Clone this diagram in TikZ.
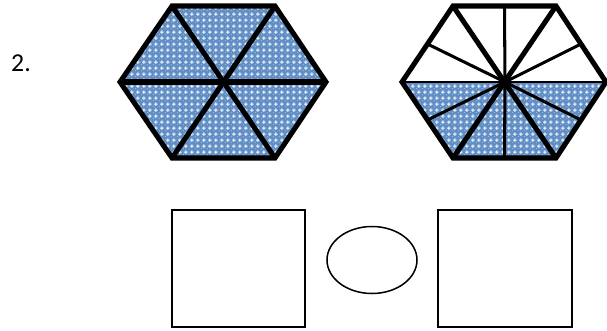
\documentclass[tikz,border=0pt]{standalone}
\usepackage{fontspec}
\setmainfont{Carlito}
\usetikzlibrary{patterns,calc}
\definecolor{hexblue}{RGB}{79,129,189}
% piccole croci bianche sul fondo blu
\pgfdeclarepatternformonly{bluecross}{\pgfqpoint{0pt}{0pt}}{\pgfqpoint{5pt}{5pt}}{\pgfqpoint{5pt}{5pt}}{
  \pgfpathrectangle{\pgfqpoint{1pt}{2pt}}{\pgfqpoint{3pt}{1pt}}
  \pgfpathrectangle{\pgfqpoint{2pt}{1pt}}{\pgfqpoint{1pt}{3pt}}
  \pgfpathrectangle{\pgfqpoint{0pt}{0pt}}{\pgfqpoint{0.6pt}{0.6pt}}
  \pgfusepath{fill}
}
\tikzset{
  hexfill/.style={fill=hexblue!90!white, postaction={pattern=bluecross, pattern color=white!92!hexblue}},
  hexline/.style={line width=4.3pt, line join=miter},
  thinspoke/.style={line width=2.6pt},
  answerbox/.style={line width=1.3pt}
}
\begin{document}
\begin{tikzpicture}[x=0.03cm, y=-0.03cm]
\useasboundingbox (0,0) rectangle (607,330);

%% numero dell'esercizio
\node[anchor=base west, inner sep=0pt, font=\fontsize{22}{26}\selectfont] (num) at (11,71) {2.};

%% === ESAGONO SINISTRO: sei triangoli, tutti colorati ===
\coordinate (A0) at (223,82);
\coordinate (A1) at (120,82);  \coordinate (A2) at (172,6);
\coordinate (A3) at (275,6);   \coordinate (A4) at (326,82);
\coordinate (A5) at (275,158); \coordinate (A6) at (172,158);

\fill[hexfill] (A1)--(A2)--(A3)--(A4)--(A5)--(A6)--cycle;
\foreach \p/\q in {A1/A4, A2/A5, A3/A6}
    \draw[hexline] (\p)--(\q);
\draw[hexline] (A1)--(A2)--(A3)--(A4)--(A5)--(A6)--cycle;

%% === ESAGONO DESTRO: dodici spicchi, metà inferiore colorata ===
\coordinate (B0) at (505,82);
\coordinate (B1) at (402,82);  \coordinate (B2) at (453,6);
\coordinate (B3) at (556,6);   \coordinate (B4) at (606,82);
\coordinate (B5) at (556,158); \coordinate (B6) at (453,158);

\fill[hexfill] (B1)--(B4)--(B5)--(B6)--cycle;

%% spicchi verso i punti medi dei lati
\foreach \p/\q in {B1/B2, B2/B3, B3/B4, B4/B5, B5/B6, B6/B1}
    \draw[thinspoke] (B0)--($(\p)!0.5!(\q)$);
\draw[line width=1.6pt] (B1)--(B4);

%% spicchi verso i vertici
\foreach \p/\q in {B2/B5, B3/B6}
    \draw[hexline] (\p)--(\q);
\draw[hexline] (B1)--(B2)--(B3)--(B4)--(B5)--(B6)--cycle;

%% === RISPOSTA: frazione, confronto, frazione ===
\draw[answerbox] (172,210) rectangle (305,327);
\draw[answerbox] (372,260) ellipse [x radius=45, y radius=33.5];
\draw[answerbox] (438,210) rectangle (572,327);

\end{tikzpicture}
\end{document}
